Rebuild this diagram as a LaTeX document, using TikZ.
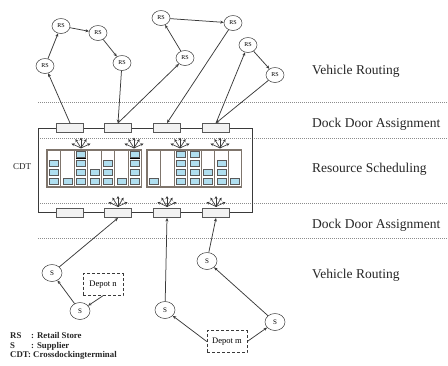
\documentclass[tikz,border=0pt]{standalone}
\usepackage{fontspec}
\setmainfont{Liberation Serif}
\usetikzlibrary{arrows.meta,shapes.geometric}
\definecolor{ln}{HTML}{3A3A3A}
\definecolor{rackc}{HTML}{7F756C}
\definecolor{cellc}{HTML}{B0DFF0}
\definecolor{dotc}{HTML}{8C8C8C}
\begin{document}
\begin{tikzpicture}[x=1pt,y=-1pt,
  route/.style={draw=ln, line width=0.75pt, -{Stealth[length=3.5pt,width=3pt]}},
  rsnode/.style={ellipse, draw=ln, line width=0.5pt, fill=white, minimum width=18pt, minimum height=15pt, inner sep=0pt, font=\fontsize{6}{6}\selectfont},
  snode/.style={ellipse, draw=ln, line width=0.5pt, fill=white, minimum width=20pt, minimum height=17pt, inner sep=0pt, font=\fontsize{7}{7}\selectfont},
  depot/.style={rectangle, draw=ln, densely dashed, line width=0.5pt, fill=white, minimum width=40pt, minimum height=22pt, inner sep=0pt, font=\fontsize{8.5}{9}\selectfont},
  door/.style={rectangle, draw=ln!85, fill=gray!10, line width=0.9pt, minimum width=27pt, minimum height=9pt, inner sep=0pt},
  sep/.style={draw=dotc, line width=1pt, densely dotted},
  lbl/.style={anchor=base west, font=\fontsize{13.5}{14}\selectfont, text=black!85, inner sep=0pt},
  leg/.style={anchor=base west, font=\fontsize{8.8}{9}\selectfont\bfseries, text=black!85, inner sep=0pt},
  fan/.style={draw=ln, line width=0.65pt, -{Stealth[length=3pt,width=3pt]}},
  cell/.style={draw=gray!70!black, line width=0.4pt, fill=cellc},
  rackframe/.style={draw=rackc, line width=1.8pt},
  rackline/.style={draw=rackc, line width=0.9pt},
]
\useasboundingbox (0,0) rectangle (448,365);

% separator lines
\draw[sep] (38,102) -- (448,102);
\draw[sep] (38,138) -- (448,138);
\draw[sep] (38,203) -- (448,203);
\draw[sep] (38,238) -- (448,238);

% CDT box
\draw[draw=ln, line width=0.75pt] (38,128) rectangle (252,212);
\node[font=\fontsize{9}{9}\selectfont, text=black!85] (cdt) at (22,167) {CDT};

% racks
\foreach \bx in {47,147} {
  \foreach \k in {1,...,6} \draw[rackline] (\bx+\k*13.5,150) -- (\bx+\k*13.5,187);
}
\foreach \bx/\c/\rows in {47/1/{2,3,4}, 47/2/{4}, 47/3/{1,2,3,4}, 47/4/{3,4}, 47/5/{2,3,4}, 47/6/{4}, 47/7/{1,2,3,4},
                          147/1/{4}, 147/3/{1,2,3,4}, 147/4/{1,2,3,4}, 147/5/{3,4}, 147/6/{2,3,4}, 147/7/{4}} {
  \foreach \r in \rows {
    \draw[cell] (\bx+\c*13.5-6.75-4.5, 154.5+\r*9-9-3) rectangle ++(9,6);
  }
}
\foreach \bx/\c in {47/3, 47/7} \draw[black, line width=1.1pt] (\bx+\c*13.5-6.75-4.75,158.8) -- ++(9.5,0);
\draw[rackframe] (47,150) rectangle (141.5,187);
\draw[rackframe] (147,150) rectangle (241.5,187);

% doors
\node[door] (dt1) at (70,128) {};
\node[door] (dt2) at (118,128) {};
\node[door] (dt3) at (167,128) {};
\node[door] (dt4) at (216,128) {};
\node[door] (db1) at (70,213) {};
\node[door] (db2) at (118,213) {};
\node[door] (db3) at (167,213) {};
\node[door] (db4) at (216,213) {};

% fans
\coordinate (ft1) at (81,148);
\coordinate (ft2) at (134,148);
\coordinate (ft3) at (180,148);
\coordinate (ft4) at (220,148);
\coordinate (fb2) at (118,206.5);
\coordinate (fb3) at (167,206.5);
\coordinate (fb4) at (216,206.5);
\foreach \f in {ft1,ft2,ft3,ft4,fb2,fb3,fb4} {
  \foreach \a in {-155,-122,-90,-58,-25} \draw[fan] (\f) -- ++(\a:10.5);
}

% retail stores
\node[rsnode] (A) at (45,66) {RS};
\node[rsnode] (B) at (61,26) {RS};
\node[rsnode] (C) at (98,33) {RS};
\node[rsnode] (D) at (122,63) {RS};
\node[rsnode] (E) at (161,18) {RS};
\node[rsnode] (F) at (185,58) {RS};
\node[rsnode] (G) at (233,23) {RS};
\node[rsnode] (H) at (248,45) {RS};
\node[rsnode] (I) at (275,75) {RS};

\draw[route] (dt1.north) -- (A);
\draw[route] (A) -- (B);
\draw[route] (B) -- (C);
\draw[route] (C) -- (D);
\draw[route] (D) -- (dt2.north);
\draw[route] (dt2.north) -- (F);
\draw[route] (F) -- (E);
\draw[route] (E) -- (G);
\draw[route] (G) -- (dt3.north);
\draw[route] (dt4.north) -- (H);
\draw[route] (H) -- (I);
\draw[route] (I) -- (dt4.north);

% suppliers
\node[snode] (s1) at (52,273) {S};
\node[snode] (s2) at (80,311) {S};
\node[snode] (s3) at (165,310) {S};
\node[snode] (s4) at (207,261) {S};
\node[snode] (s5) at (275,322) {S};
\node[depot] (dn) at (103,284.5) {Depot n};
\node[depot] (dm) at (227,341.5) {Depot m};

\draw[route] (s1) -- (db2.south);
\draw[route] (s2) -- (s1);
\draw[route] (dn.south) -- (s2);
\draw[route] (s3) -- (db3.south);
\draw[route] (dm.west) -- (s3);
\draw[route] (dm.east) -- (s5);
\draw[route] (s5) -- (s4);
\draw[route] (s4) -- (db4.south);

% right labels
\node[lbl] (l1) at (312,74) {Vehicle Routing};
\node[lbl] (l2) at (312,127) {Dock Door Assignment};
\node[lbl] (l3) at (312,172) {Resource Scheduling};
\node[lbl] (l4) at (312,228) {Dock Door Assignment};
\node[lbl] (l5) at (312,278) {Vehicle Routing};

% legend
\node[leg] (g1a) at (10,338.5) {RS};
\node[leg] (g1b) at (31,338.5) {: Retail Store};
\node[leg] (g2a) at (10,348) {S};
\node[leg] (g2b) at (31,348) {: Supplier};
\node[leg] (g3) at (10,357.5) {CDT: Crossdockingterminal};
\end{tikzpicture}
\end{document}
